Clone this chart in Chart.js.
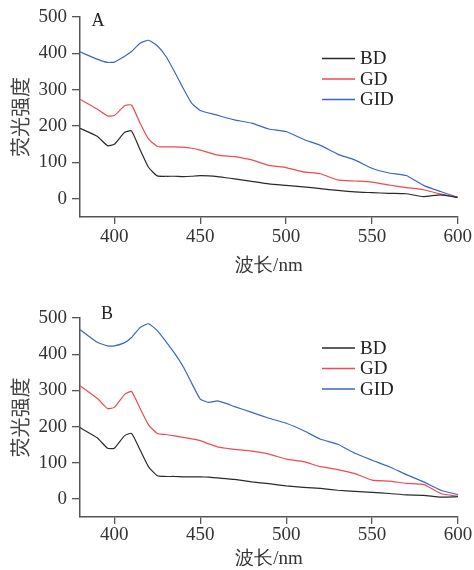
<!DOCTYPE html>
<html>
<head>
<meta charset="utf-8">
<script src="https://cdn.jsdelivr.net/npm/chart.js@4/dist/chart.umd.min.js"></script>
<style>
  body { margin: 0; background: #fff; }
  canvas { display: block; }
</style>
</head>
<body>
<canvas id="chartA" width="474" height="285"></canvas>
<canvas id="chartB" width="474" height="285"></canvas>
<script>
// wavelength (nm)
var wavelengths = [380, 390, 396, 400, 406, 410, 415, 420, 425, 430, 435, 440, 445, 450, 455, 460,
                   465, 470, 480, 490, 500, 510, 520, 530, 540, 550, 560, 570, 580, 590, 600];

// panel A
var bdA  = [194, 172, 146, 150, 183, 187, 135, 86, 63, 62, 62, 61, 62, 64, 63, 61,
            58, 55, 48, 41, 37, 33, 28, 23, 19, 17, 15, 14, 6, 11, 4];
var gdA  = [274, 247, 228, 229, 256, 258, 208, 164, 144, 143, 143, 142, 139, 134, 127, 120,
            118, 116, 107, 92, 86, 74, 69, 52, 49, 46, 38, 31, 25, 13, 4];
var gidA = [404, 384, 375, 376, 392, 405, 428, 436, 421, 392, 350, 305, 263, 243, 236, 230,
            223, 217, 208, 192, 185, 164, 147, 123, 107, 84, 71, 64, 37, 20, 4];

// panel B
var bdB  = [197, 169, 140, 140, 175, 181, 135, 88, 64, 62, 62, 61, 61, 61, 60, 58,
            56, 54, 47, 42, 36, 32, 29, 24, 21, 18, 15, 11, 10, 5, 6];
var gdB  = [313, 278, 250, 253, 289, 297, 250, 204, 181, 178, 174, 170, 166, 161, 152, 144,
            140, 137, 132, 124, 110, 103, 89, 81, 70, 52, 49, 43, 40, 15, 7];
var gidB = [468, 433, 423, 423, 432, 446, 474, 484, 465, 435, 403, 366, 320, 276, 267, 271,
            264, 255, 239, 223, 209, 189, 165, 151, 126, 107, 89, 67, 47, 24, 12];

var seriesNames = ["BD", "GD", "GID"];
var seriesColors = ["#2a2a2a", "#ef4a4f", "#3a66c4"];
var xTicks = [400, 450, 500, 550, 600];
var yTicks = [0, 100, 200, 300, 400, 500];

var serif = "'Liberation Serif', 'Times New Roman', serif";

// legend + panel letter, drawn by hand to sit where the original has them
var overlayPlugin = {
    id: "overlay",
    afterDraw: function (chart) {
        var opts = chart.options.plugins.overlay;
        var ctx = chart.ctx;
        ctx.save();
        ctx.fillStyle = "#222";
        ctx.font = "18px " + serif;
        ctx.textBaseline = "middle";
        ctx.textAlign = "center";
        ctx.fillText(opts.panel, opts.panelX, opts.panelY);
        ctx.font = "19px " + serif;
        ctx.textAlign = "left";
        chart.data.datasets.forEach(function (ds, i) {
            var y = opts.legendY + i * 20.5;
            ctx.strokeStyle = ds.borderColor;
            ctx.lineWidth = 1.3;
            ctx.beginPath();
            ctx.moveTo(322, y);
            ctx.lineTo(355, y);
            ctx.stroke();
            ctx.fillStyle = "#222";
            ctx.fillText(ds.label, 360, y + 1);
        });
        ctx.restore();
    }
};

function makeChart(canvasId, values, p)
{
    var datasets = [];
    for (var i = 0; i < values.length; i++) {
        datasets.push({
            label: seriesNames[i],
            data: wavelengths.map(function (w, j) { return { x: w, y: values[i][j] }; }),
            borderColor: seriesColors[i],
            borderWidth: 1.2,
            pointRadius: 0,
            tension: 0.15,
            fill: false
        });
    }

    return new Chart(document.getElementById(canvasId), {
        type: "line",
        data: { datasets: datasets },
        plugins: [overlayPlugin],
        options: {
            responsive: false,
            animation: false,
            layout: { padding: { top: p.top, right: 16, bottom: p.bottom, left: 0 } },
            plugins: {
                legend: { display: false },
                tooltip: { enabled: false },
                overlay: p
            },
            scales: {
                x: {
                    type: "linear",
                    min: 380,
                    max: 600,
                    afterBuildTicks: function (scale) {
                        scale.ticks = xTicks.map(function (v) { return { value: v }; });
                    },
                    afterFit: function (scale) { scale.height = p.xHeight; },
                    grid: { display: true, drawOnChartArea: false, drawTicks: true, tickLength: 7, color: "#555", lineWidth: 1.3 },
                    border: { display: true, color: "#555", width: 1.5 },
                    ticks: { color: "#333", padding: p.xPad, maxRotation: 0, font: { family: serif, size: 19 } },
                    title: { display: true, text: "波长/nm", color: "#333", padding: { top: 0, bottom: 0 },
                             font: { family: serif, size: 19 } }
                },
                y: {
                    min: -50,
                    max: 500,
                    afterBuildTicks: function (scale) {
                        scale.ticks = yTicks.map(function (v) { return { value: v }; });
                    },
                    afterFit: function (scale) { scale.width = 80; },
                    grid: { display: true, drawOnChartArea: false, drawTicks: true, tickLength: 8, color: "#555", lineWidth: 1.3 },
                    border: { display: true, color: "#555", width: 1.5 },
                    ticks: { color: "#333", padding: 5, font: { family: serif, size: 19 } },
                    title: { display: true, text: "荧光强度", color: "#444", padding: { top: 8, bottom: 0 },
                             font: { family: "'Noto Sans CJK SC', sans-serif", size: 20 } }
                }
            }
        }
    });
}

makeChart("chartA", [bdA, gdA, gidA], { panel: "A", panelX: 98, panelY: 21, legendY: 58.5,
                                        top: 17, bottom: 8, xHeight: 60, xPad: 2 });
makeChart("chartB", [bdB, gdB, gidB], { panel: "B", panelX: 107, panelY: 29, legendY: 63,
                                        top: 33, bottom: 0, xHeight: 53, xPad: 0 });
</script>
</body>
</html>
